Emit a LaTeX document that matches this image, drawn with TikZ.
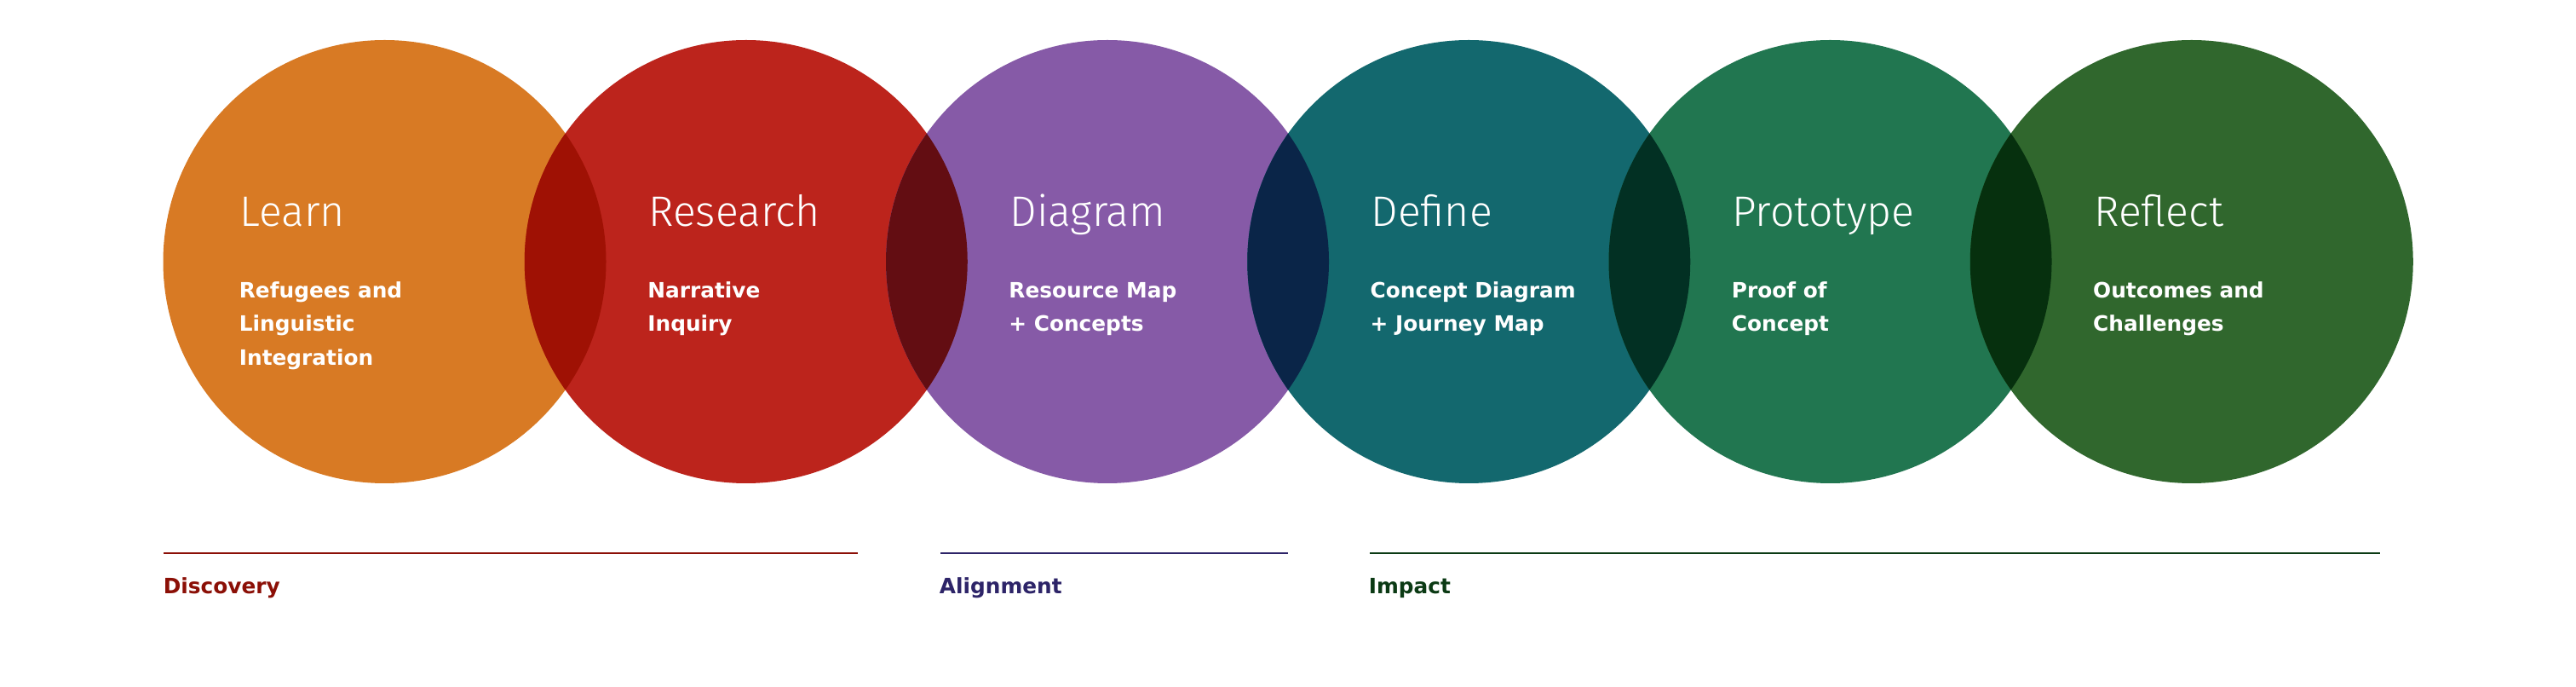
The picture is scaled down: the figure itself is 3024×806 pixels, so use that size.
\documentclass[tikz,border=0pt]{standalone}
\usepackage{fontspec}
\newfontfamily\titlefont{Fira Sans Light}
\newfontfamily\bodyfont{DejaVu Sans}
\definecolor{corange}{RGB}{216,122,36}
\definecolor{cred}{RGB}{188,36,28}
\definecolor{cpurple}{RGB}{134,90,167}
\definecolor{cteal}{RGB}{19,104,110}
\definecolor{cgreen}{RGB}{33,118,80}
\definecolor{cdgreen}{RGB}{48,103,45}
\definecolor{clensa}{RGB}{159,17,4}
\definecolor{clensb}{RGB}{99,13,18}
\definecolor{clensc}{RGB}{10,37,72}
\definecolor{clensd}{RGB}{2,48,35}
\definecolor{clense}{RGB}{6,48,14}
\definecolor{cdisc}{RGB}{139,15,6}
\definecolor{calign}{RGB}{45,36,104}
\definecolor{cimpact}{RGB}{11,58,20}
\tikzset{
  bubble/.style={circle, minimum size=260pt, inner sep=0pt, draw=none},
  titletext/.style={anchor=base west, inner sep=0pt, text=white, font=\titlefont\fontsize{25pt}{28pt}\selectfont},
  bodytext/.style={anchor=base west, inner sep=0pt, text=white, font=\bodyfont\bfseries\fontsize{12.4pt}{15pt}\selectfont},
  phaseline/.style={line width=1.1pt},
  phasetext/.style={anchor=base west, inner sep=0pt, font=\bodyfont\bfseries\fontsize{12.4pt}{15pt}\selectfont},
}
\begin{document}
\begin{tikzpicture}[x=0.5pt,y=-0.5pt]
\useasboundingbox (0,0) rectangle (3024,806);
\fill[white] (0,0) rectangle (3024,806);
% circles
\node[bubble, fill=corange] (c1) at (451.5,307) {};
\node[bubble, fill=cred] (c2) at (875.75,307) {};
\node[bubble, fill=cpurple] (c3) at (1300,307) {};
\node[bubble, fill=cteal] (c4) at (1724.25,307) {};
\node[bubble, fill=cgreen] (c5) at (2148.5,307) {};
\node[bubble, fill=cdgreen] (c6) at (2572.75,307) {};
% lenses
\begin{scope}\clip (c1.center) circle[radius=130pt]; \fill[clensa] (c2.center) circle[radius=130pt];\end{scope}
\begin{scope}\clip (c2.center) circle[radius=130pt]; \fill[clensb] (c3.center) circle[radius=130pt];\end{scope}
\begin{scope}\clip (c3.center) circle[radius=130pt]; \fill[clensc] (c4.center) circle[radius=130pt];\end{scope}
\begin{scope}\clip (c4.center) circle[radius=130pt]; \fill[clensd] (c5.center) circle[radius=130pt];\end{scope}
\begin{scope}\clip (c5.center) circle[radius=130pt]; \fill[clense] (c6.center) circle[radius=130pt];\end{scope}
% titles
\node[titletext] (t1) at (281,265.7) {Learn};
\node[titletext] (t2) at (761,265.7) {Research};
\node[titletext] (t3) at (1185,265.7) {Diagram};
\node[titletext] (t4) at (1609,265.7) {Define};
\node[titletext] (t5) at (2033,265.7) {Prototype};
\node[titletext] (t6) at (2458,265.7) {Reflect};
% bodies
\node[bodytext] (b1a) at (280.5,349.5) {Refugees and};
\node[bodytext] (b1b) at (280.5,389) {Linguistic};
\node[bodytext] (b1c) at (280.5,428.5) {Integration};
\node[bodytext] (b2a) at (760,349.5) {Narrative};
\node[bodytext] (b2b) at (760,389) {Inquiry};
\node[bodytext] (b3a) at (1184,349.5) {Resource Map};
\node[bodytext] (b3b) at (1184,389) {+ Concepts};
\node[bodytext] (b4a) at (1608.25,349.5) {Concept Diagram};
\node[bodytext] (b4b) at (1608.25,389) {+ Journey Map};
\node[bodytext] (b5a) at (2032.5,349.5) {Proof of};
\node[bodytext] (b5b) at (2032.5,389) {Concept};
\node[bodytext] (b6a) at (2456.75,349.5) {Outcomes and};
\node[bodytext] (b6b) at (2456.75,389) {Challenges};
% phases
\coordinate (d0) at (192,649); \coordinate (d1) at (1007,649);
\coordinate (a0) at (1104,649); \coordinate (a1) at (1512,649);
\coordinate (i0) at (1608,649); \coordinate (i1) at (2794,649);
\draw[phaseline, cdisc] (d0) -- (d1);
\draw[phaseline, calign] (a0) -- (a1);
\draw[phaseline, cimpact] (i0) -- (i1);
\node[phasetext, text=cdisc] (pd) at (191.5,696) {Discovery};
\node[phasetext, text=calign] (pa) at (1102.5,696) {Alignment};
\node[phasetext, text=cimpact] (pi) at (1606.5,696) {Impact};
\end{tikzpicture}
\end{document}
